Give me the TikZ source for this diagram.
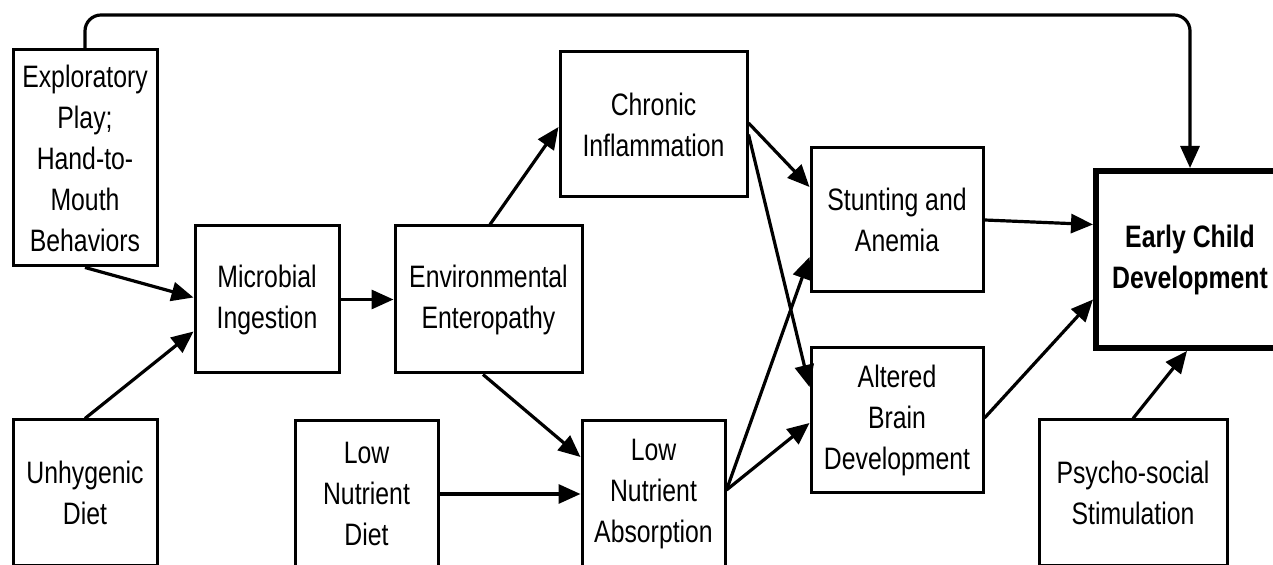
\documentclass[tikz,border=0pt]{standalone}
\usepackage{fontspec}
\setmainfont{Liberation Sans}[FakeStretch=0.8]
\usetikzlibrary{arrows.meta,calc}
\begin{document}
\begin{tikzpicture}[x=0.5pt,y=-0.5pt,
  box/.style={draw,line width=1.5pt,align=center,inner sep=0pt,
    font=\fontsize{15.5}{20.5}\selectfont},
  conn/.style={line width=1.6pt,-{Triangle[length=11pt,width=9.5pt]}}]
\useasboundingbox (0,0) rectangle (1273,565);
\begin{scope}
\clip (0,0) rectangle (1273,565);
% nodes
\node[box,minimum width=72pt,minimum height=108pt] (expl) at (85,158)
  {Exploratory\\Play;\\Hand-to-\\Mouth\\Behaviors};
\node[box,minimum width=72pt,minimum height=73pt] (unhyg) at (85,493)
  {Unhygenic\\Diet};
\node[box,minimum width=72pt,minimum height=73.5pt] (micro) at (267,299.5)
  {Microbial\\Ingestion};
\node[box,minimum width=93.5pt,minimum height=73.5pt] (env) at (488.5,299.5)
  {Environmental\\Enteropathy};
\node[box,minimum width=93.5pt,minimum height=72.5pt] (chron) at (653.5,124.5)
  {Chronic\\Inflammation};
\node[box,minimum width=71.5pt,minimum height=73pt] (lnd) at (366.5,494)
  {Low\\Nutrient\\Diet};
\node[box,minimum width=71.5pt,minimum height=73pt] (lna) at (653.5,494)
  {Low\\Nutrient\\Absorption};
\node[box,minimum width=86pt,minimum height=72pt] (stunt) at (897,220)
  {Stunting and\\Anemia};
\node[box,minimum width=86pt,minimum height=72.5pt] (brain) at (897,420.5)
  {Altered\\Brain\\Development};
\node[box,line width=3pt,minimum width=94pt,minimum height=88.5pt] (ecd) at (1190,259.5)
  {\bfseries Early Child\\\bfseries Development};
\node[box,minimum width=94pt,minimum height=73pt] (psy) at (1133,493)
  {Psycho-social\\Stimulation};
\coordinate (top) at (0,15);
% connectors
\draw[conn] (expl.south) -- ($(micro.west)+(0,-2)$);
\draw[conn] (unhyg.north) -- ($(micro.west)+(0,32)$);
\draw[conn] (micro.east) -- (env.west);
\draw[conn] ($(env.north)+(1.5,0)$) -- ($(chron.west)+(0,2.5)$);
\draw[conn] ($(env.south)+(-5.5,0)$) -- ($(lna.west)+(0,-37)$);
\draw[conn] (lnd.east) -- (lna.west);
\draw[conn] ($(chron.east)+(0,-1.5)$) -- ($(stunt.west)+(0,-33)$);
\draw[conn] ($(chron.east)+(0,10)$) -- ($(brain.west)+(0,-33.5)$);
\draw[conn] ($(lna.east)+(0,-4)$) -- ($(stunt.west)+(0,37)$);
\draw[conn] ($(lna.east)+(0,-4)$) -- ($(brain.west)+(0,2.5)$);
\draw[conn] (stunt.east) -- ($(ecd.west)+(0,-35)$);
\draw[conn] ($(brain.east)+(0,-2.5)$) -- ($(ecd.west)+(0,40)$);
\draw[conn] (psy.north) -- ($(ecd.south)+(-3,0)$);
\draw[conn,rounded corners=8pt] (expl.north) -- (expl.north |- top) -| (ecd.north);
\end{scope}
\end{tikzpicture}
\end{document}
